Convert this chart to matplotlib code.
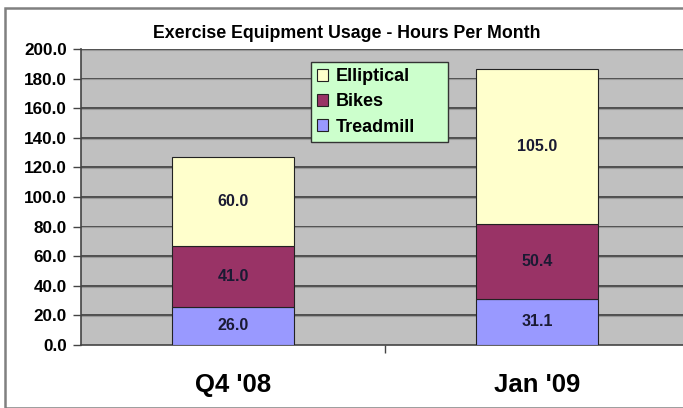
import matplotlib
matplotlib.use("Agg")
import matplotlib.pyplot as plt
import numpy as np
from matplotlib.patches import Rectangle

categories = ["Q4 '08", "Jan '09"]
treadmill = [26.0, 31.1]
bikes = [41.0, 50.4]
elliptical = [60.0, 105.0]
series_names = ["Treadmill", "Bikes", "Elliptical"]
yticks = [0, 20, 40, 60, 80, 100, 120, 140, 160, 180, 200]

plt.rcParams['font.family'] = ['Liberation Sans', 'DejaVu Sans']

W, H = 683, 408
fig = plt.figure(figsize=(W / 100, H / 100), dpi=100)
fig.patch.set_facecolor('white')

# outer chart border
fig.add_artist(Rectangle((5 / W, 0), 1.0, 1 - 8 / H, transform=fig.transFigure,
                         fill=False, edgecolor='#808080', linewidth=1.8))

left, right, top, bottom = 81, 689, 49, 345
ax = fig.add_axes([left / W, 1 - bottom / H, (right - left) / W, (bottom - top) / H])
ax.set_facecolor('#C0C0C0')

x = np.arange(len(categories))
width = 0.4
colors = {"Treadmill": '#9999FF', "Bikes": '#993366', "Elliptical": '#FFFFCC'}
data = {"Treadmill": treadmill, "Bikes": bikes, "Elliptical": elliptical}

ax.set_ylim(0, 200)
ax.set_xlim(-0.5, len(categories) - 0.5)
ax.set_yticks(yticks)
ax.set_yticklabels([f"{v:.1f}" for v in yticks], fontsize=12.3, fontweight='bold')
for v in yticks[1:]:
    ax.axhline(v, color='#3a3a3a', linewidth=1.2, zorder=1)
    ax.axhline(v - 0.6, color='#999999', linewidth=0.8, zorder=1)

bottoms = np.zeros(len(categories))
handles = {}
for name in series_names:
    vals = np.array(data[name])
    b = ax.bar(x, vals, width, bottom=bottoms, color=colors[name], edgecolor='#222222',
               linewidth=0.8, zorder=3, label=name)
    handles[name] = b
    for xi, v, bt in zip(x, vals, bottoms):
        ax.text(xi, bt + v / 2, f"{v:.1f}", ha='center', va='center', fontsize=11.5,
                fontweight='bold', color='#1a1a33', zorder=4)
    bottoms += vals

ax.set_xticks([0.5], minor=False)
ax.set_xticklabels([""])
ax.tick_params(axis='x', direction='out', length=6, width=1, color='#444444')
ax.tick_params(axis='y', direction='out', length=6, width=1, color='#444444', pad=4)
for xi, c in zip(x, categories):
    ax.text(xi, -0.135, c, transform=ax.get_xaxis_transform(), ha='center', va='center',
            fontsize=18.5, fontweight='bold', color='black')

for s in ['top', 'right']:
    ax.spines[s].set_visible(False)
ax.spines['left'].set_color('#444444')
ax.spines['bottom'].set_color('#444444')
ax.spines['left'].set_linewidth(1.2)
ax.spines['bottom'].set_linewidth(1.2)

fig.text(347 / W, 1 - 33 / H, "Exercise Equipment Usage - Hours Per Month", ha='center',
         va='center', fontsize=12.8, fontweight='bold')

lx0 = (311 - left) / (right - left)
lw = (448 - 311) / (right - left)
ly1 = 1 - (62 - top) / (bottom - top)
lh = (144 - 62) / (bottom - top)
leg = ax.legend([handles[n] for n in ["Elliptical", "Bikes", "Treadmill"]],
                ["Elliptical", "Bikes", "Treadmill"],
                loc='upper left', bbox_to_anchor=(lx0, ly1 - lh, lw, lh), mode='expand',
                frameon=True, fancybox=False, prop={'weight': 'bold', 'size': 13},
                handlelength=0.6, handleheight=0.6, handletextpad=0.4, labelspacing=0.45,
                borderpad=0.35, borderaxespad=0)
leg.get_frame().set_facecolor('#CCFFCC')
leg.get_frame().set_edgecolor('#333333')
leg.get_frame().set_linewidth(1.0)
leg.get_frame().set_alpha(1)
leg.set_zorder(5)

fig.savefig("out.png", dpi=100, facecolor='white')
